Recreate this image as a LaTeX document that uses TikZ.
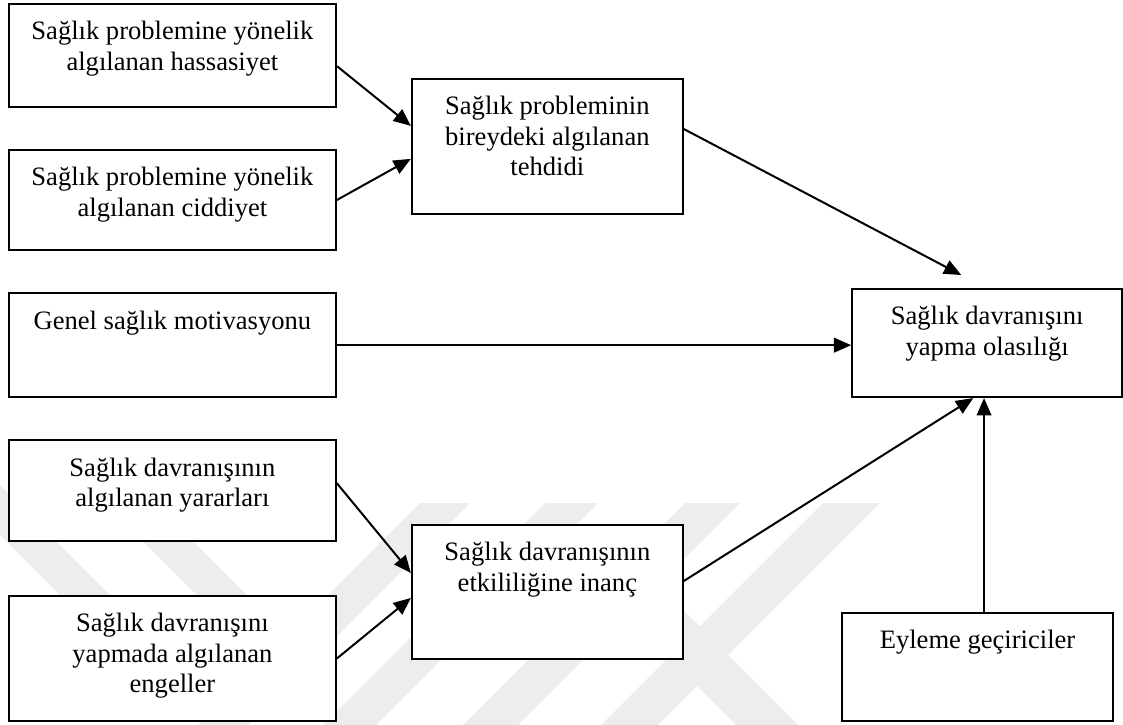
\documentclass[tikz,border=0pt]{standalone}
\usepackage{fontspec}
\setmainfont{Liberation Serif}
\usepackage{tikz}
\usetikzlibrary{arrows.meta}

\newcommand{\boxtext}[3]{\parbox[t][#2][t]{#1}{\centering\rule{0pt}{27pt}#3}}

\tikzset{
  box/.style={draw, line width=1.5pt, fill=white, inner sep=0pt, anchor=north west,
    font=\fontsize{20}{23}\selectfont},
  link/.style={line width=1.5pt, -{Triangle[length=13pt,width=11pt]}},
}

\begin{document}
\begin{tikzpicture}
\useasboundingbox (0,0) rectangle (29.71,-19.18);
% faint watermark bands in the background
\begin{scope}[x=0.02646cm, y=-0.02646cm, fill=black!7]
\fill (-55,480) -- (-5,480) -- (145,630) -- (95,630) -- cycle;
\fill (82,480) -- (132,480) -- (282,630) -- (232,630) -- cycle;
\fill (420,503) -- (470,503) -- (248,725) -- (198,725) -- cycle;
\fill (545,503) -- (598,503) -- (376,725) -- (323,725) -- cycle;
\fill (685,503) -- (740,503) -- (518,725) -- (463,725) -- cycle;
\fill (823,503) -- (880,503) -- (658,725) -- (601,725) -- cycle;
\fill (571,560) -- (633,560) -- (798,725) -- (736,725) -- cycle;
\end{scope}
% left column of perceptions
\node[box] (hass) at (0.21,-0.08) {\boxtext{8.65cm}{2.73cm}{Sağlık problemine yönelik\\algılanan hassasiyet}};
\node[box] (cidd) at (0.21,-3.94) {\boxtext{8.65cm}{2.65cm}{Sağlık problemine yönelik\\algılanan ciddiyet}};
\node[box] (genel) at (0.21,-7.73) {\boxtext{8.65cm}{2.75cm}{Genel sağlık motivasyonu}};
\node[box] (yarar) at (0.21,-11.62) {\boxtext{8.65cm}{2.67cm}{Sağlık davranışının\\algılanan yararları}};
\node[box] (engel) at (0.21,-15.74) {\boxtext{8.65cm}{3.31cm}{Sağlık davranışını\\yapmada algılanan\\engeller}};
% middle column
\node[box] (tehd) at (10.87,-2.06) {\boxtext{7.17cm}{3.57cm}{Sağlık probleminin\\bireydeki algılanan\\tehdidi}};
\node[box] (etkin) at (10.87,-13.86) {\boxtext{7.17cm}{3.55cm}{Sağlık davranışının\\etkililiğine inanç}};
% right column
\node[box] (olas) at (22.52,-7.62) {\boxtext{7.14cm}{2.86cm}{Sağlık davranışını\\yapma olasılığı}};
\node[box] (eylem) at (22.25,-16.19) {\boxtext{7.17cm}{2.86cm}{Eyleme geçiriciler}};
% arrows
\draw[link] ([yshift=-7.9pt]hass.east) -- ([yshift=15.4pt]tehd.west);
\draw[link] (cidd.east) -- ([yshift=-9.4pt]tehd.west);
\draw[link] ([yshift=13pt]tehd.east) -- ([xshift=-19.5pt,yshift=9.75pt]olas.north);
\draw[link] (genel.east) -- (genel.east -| olas.west);
\draw[link] ([yshift=5.6pt]yarar.east) -- ([yshift=14.3pt]etkin.west);
\draw[link] (engel.east) -- ([yshift=-4.5pt]etkin.west);
\draw[link] ([yshift=8.3pt]etkin.east) -- ([xshift=-10.5pt]olas.south);
\draw[link] ([xshift=4.9pt]eylem.north) -- ([xshift=4.9pt]eylem.north |- olas.south);
\end{tikzpicture}
\end{document}
